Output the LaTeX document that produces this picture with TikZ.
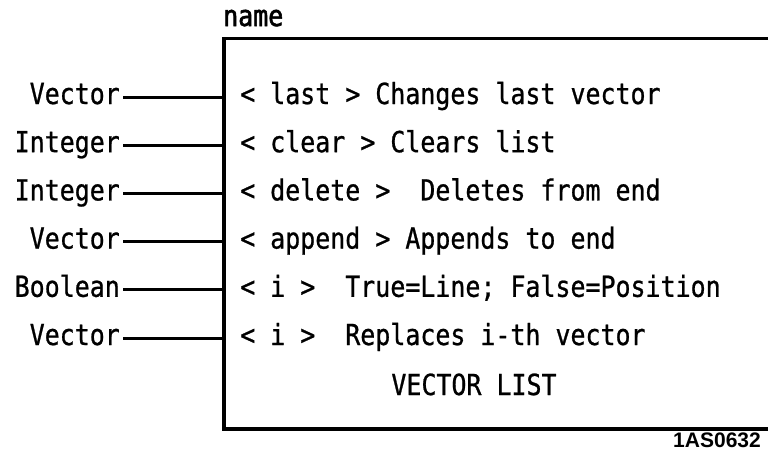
\documentclass[tikz,border=0pt]{standalone}
\usepackage{fontspec}
\newfontfamily\dmono[FakeStretch=0.86,FakeBold=0.8]{DejaVu Sans Mono}
\newfontfamily\dmonob[FakeStretch=0.86,FakeBold=2]{DejaVu Sans Mono}
\newfontfamily\lsans{Liberation Sans}
\begin{document}
\begin{tikzpicture}[x=1pt,y=-1pt,
  txt/.style={font=\dmono\fontsize{29}{34}\selectfont},
  lbl/.style={txt, inner sep=0pt, text height=14pt, text depth=0pt},
  op/.style={txt, inner sep=0pt, anchor=base west},
  wire/.style={line width=3pt, shorten <=3pt},
  frame/.style={line width=3.2pt}]
\useasboundingbox (0,0) rectangle (768,456);
% box (open on the right)
\coordinate (tr) at (768,38.5);
\coordinate (tl) at (224,38.5);
\coordinate (bl) at (224,429);
\coordinate (br) at (768,429);
\draw[frame] (tr) -- (tl) -- (bl) -- (br);
\node[font=\dmonob\fontsize{29}{34}\selectfont, inner sep=0pt, anchor=base west] (name) at (223,26) {name};
% inputs
\foreach \i/\y/\t/\d in {1/97/Vector/{< last > Changes last vector},
                     2/145.2/Integer/{< clear > Clears list},
                     3/193.4/Integer/{< delete >\ \ Deletes from end},
                     4/241.6/Vector/{< append > Appends to end},
                     5/289.8/Boolean/{< i >\ \ True=Line; False=Position},
                     6/338/Vector/{< i >\ \ Replaces i-th vector}}{
  \node[lbl, anchor=east] (in\i) at (120,\y) {\t};
  \coordinate (p\i) at (224,\y);
  \draw[wire] (in\i) -- (p\i);
  \node[op] (op\i) at (240,\y+7) {\d};
}
\node[txt, inner sep=0pt, anchor=base] (title) at (474,395) {VECTOR LIST};
\node[font=\lsans\bfseries\fontsize{21}{24}\selectfont, inner sep=0pt, anchor=base east] (code) at (761,447) {1AS0632};
\end{tikzpicture}
\end{document}
